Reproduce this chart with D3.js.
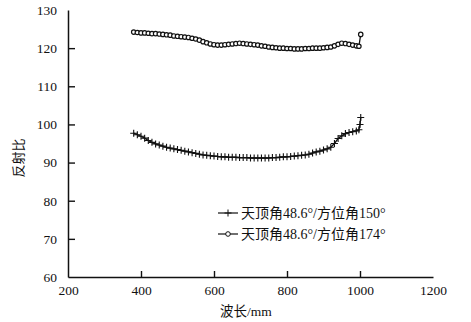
<!DOCTYPE html>
<html>
<head>
<meta charset="utf-8">
<script src="https://cdn.jsdelivr.net/npm/d3@7"></script>
<style>
  body { margin: 0; background: #fff; }
  svg text { font-family: "Liberation Serif", "Noto Sans CJK SC", serif; fill: #111; }
</style>
</head>
<body>
<div id="chart-area"></div>
<script>
// wavelengths shared by both curves (nm)
var waveBase = [380,390,400,410,420,430,440,450,460,470,480,490,500,510,520,530,540,550,560,570,
    580,590,600,610,620,630,640,650,660,670,680,690,700,710,720,730,740,750,760,770,
    780,790,800,810,820,830,840,850,860,870,880,890,900,910,920,930,940,950,960,970,980,990];
var waveCross = waveBase.concat([997, 1000, 1002]);
var waveCircle = waveBase.concat([997, 1002]);

// zenith 48.6 / azimuth 150
var crossVals = [97.7,97.3,96.9,96.4,95.8,95.3,94.9,94.6,94.3,94.0,93.8,93.6,93.4,93.2,93.0,92.8,92.6,92.4,92.2,92.0,
    91.9,91.8,91.7,91.6,91.5,91.5,91.4,91.4,91.4,91.3,91.3,91.3,91.2,91.2,91.2,91.2,91.2,91.2,91.3,91.3,
    91.4,91.5,91.5,91.6,91.7,91.8,91.9,92.0,92.2,92.5,92.8,93.0,93.3,93.6,94.0,95.0,96.3,97.0,97.6,97.9,98.1,98.3,
    98.6,100.0,101.8];
// zenith 48.6 / azimuth 174
var circleVals = [124.2,124.1,124.0,124.0,123.9,123.8,123.8,123.7,123.6,123.5,123.4,123.2,123.1,123.0,122.9,122.8,122.6,122.4,122.1,121.7,
    121.4,121.1,120.9,120.8,120.8,120.9,121.0,121.1,121.2,121.3,121.2,121.1,121.0,120.9,120.8,120.6,120.5,120.3,120.2,120.1,
    120.0,120.0,119.9,119.9,119.8,119.8,119.8,119.9,119.9,120.0,120.0,120.0,120.1,120.2,120.3,120.6,121.0,121.3,121.2,121.0,120.8,120.6,
    120.5,123.6];

var xTicks = [200,400,600,800,1000,1200];
var yTicks = [60,70,80,90,100,110,120,130];
var legendLabels = ["天顶角48.6°/方位角150°", "天顶角48.6°/方位角174°"];

var W = 471, H = 322;
var svg = d3.select("#chart-area").append("svg")
    .attr("width", W).attr("height", H);
svg.append("rect").attr("width", W).attr("height", H).attr("fill", "#fff");

var x = d3.scaleLinear().domain([200, 1200]).range([68, 433]);
var y = d3.scaleLinear().domain([60, 130]).range([277, 10]);

var xAxis = svg.append("g")
    .attr("transform", "translate(0," + y(60) + ")")
    .call(d3.axisBottom(x).tickValues(xTicks).tickSizeInner(-6).tickSizeOuter(0).tickPadding(8).tickFormat(d3.format("d")));
var yAxis = svg.append("g")
    .attr("transform", "translate(" + x(200) + ",0)")
    .call(d3.axisLeft(y).tickValues(yTicks).tickSizeInner(-7).tickSizeOuter(0).tickPadding(11).tickFormat(d3.format("d")));

[xAxis, yAxis].forEach(function(a){
    a.select(".domain").attr("stroke", "#111").attr("stroke-width", 1.5);
    a.selectAll(".tick line").attr("stroke", "#111").attr("stroke-width", 1.4);
    a.selectAll(".tick text").attr("font-size", "13.5px");
});
// no tick marks at the ends
xAxis.selectAll(".tick").filter(function(d){ return d == 200 || d == 1200; }).select("line").remove();
yAxis.selectAll(".tick").filter(function(d){ return d == 60 || d == 130; }).select("line").remove();

svg.append("text")
    .attr("x", 246).attr("y", 316)
    .attr("text-anchor", "middle")
    .attr("font-size", "13.5px")
    .text("波长/mm");

svg.append("text")
    .attr("transform", "translate(23,158) rotate(-90)")
    .attr("text-anchor", "middle")
    .attr("font-size", "13px")
    .text("反射比");

var line = d3.line()
    .x(function(d){ return x(d[0]); })
    .y(function(d){ return y(d[1]); });

var crossData = waveCross.map(function(w, i){ return [w, crossVals[i]]; });
var circleData = waveCircle.map(function(w, i){ return [w, circleVals[i]]; });

function crossPath(cx, cy, s) {
    return "M" + (cx - s) + "," + cy + "H" + (cx + s) + "M" + cx + "," + (cy - s) + "V" + (cy + s);
}

svg.append("path").datum(crossData)
    .attr("d", line).attr("fill", "none").attr("stroke", "#111").attr("stroke-width", 1.3);
svg.append("g").selectAll("path").data(crossData).enter().append("path")
    .attr("d", function(d){ return crossPath(x(d[0]), y(d[1]), 3.5); })
    .attr("stroke", "#111").attr("stroke-width", 1.1);

svg.append("path").datum(circleData)
    .attr("d", line).attr("fill", "none").attr("stroke", "#111").attr("stroke-width", 1.3);
svg.append("g").selectAll("circle").data(circleData).enter().append("circle")
    .attr("cx", function(d){ return x(d[0]); })
    .attr("cy", function(d){ return y(d[1]); })
    .attr("r", 2.2)
    .attr("fill", "#fff").attr("stroke", "#111").attr("stroke-width", 1.2);

// legend
var legend = svg.append("g").attr("transform", "translate(218,213)");
legendLabels.forEach(function(lbl, i){
    var row = legend.append("g").attr("transform", "translate(0," + (i * 21) + ")");
    row.append("line").attr("x1", 0).attr("x2", 20).attr("y1", 0).attr("y2", 0)
        .attr("stroke", "#111").attr("stroke-width", 1.2);
    if (i == 0) {
        row.append("path").attr("d", crossPath(10, 0, 3.5)).attr("stroke", "#111").attr("stroke-width", 1);
    } else {
        row.append("circle").attr("cx", 10).attr("cy", 0).attr("r", 2.3)
            .attr("fill", "#fff").attr("stroke", "#111");
    }
    row.append("text").attr("x", 23).attr("y", 0).attr("dy", "0.35em")
        .attr("font-size", "14px")
        .text(lbl);
});
</script>
</body>
</html>
